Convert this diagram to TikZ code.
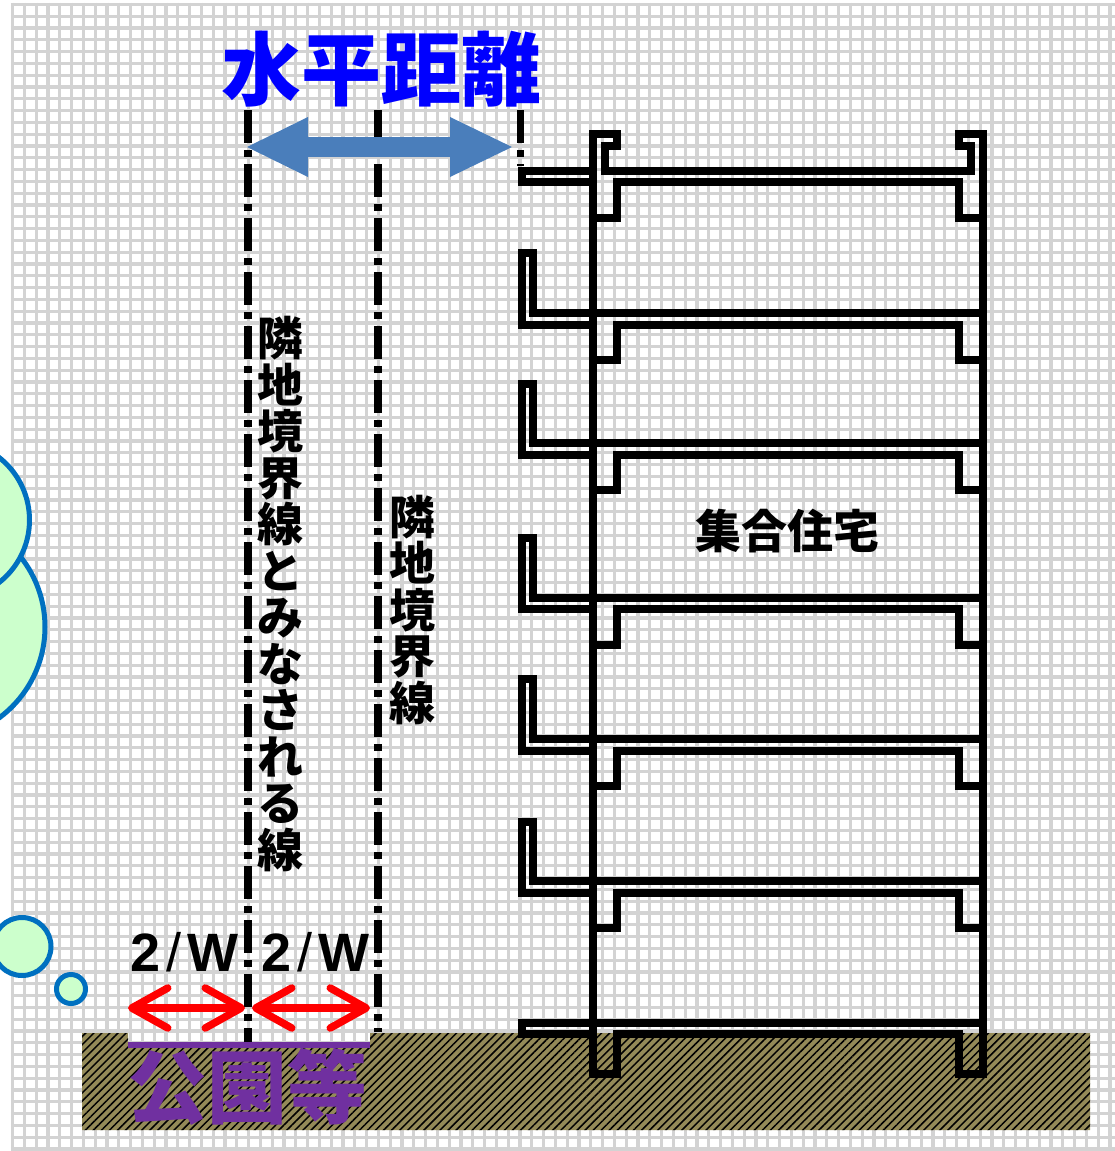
\documentclass[tikz,border=0pt]{standalone}
\usepackage{fontspec}
\newfontfamily\cjk{Noto Sans CJK JP}
\newfontfamily\lat{Liberation Sans}
\usetikzlibrary{arrows.meta,patterns.meta}
\definecolor{gridgray}{RGB}{211,211,211}
\definecolor{titleblue}{RGB}{0,0,255}
\definecolor{arrowblue}{RGB}{74,126,187}
\definecolor{parkpurple}{RGB}{112,48,160}
\definecolor{soil}{RGB}{148,138,88}
\definecolor{leaf}{RGB}{204,255,204}
\definecolor{leafline}{RGB}{0,112,192}
\begin{document}
\begin{tikzpicture}[x=1pt,y=-1pt,
  gridline/.style={gridgray,line width=3.2pt},
  wall/.style={line width=8pt,line cap=rect,line join=miter},
  boundary/.style={line width=7.5pt,dash pattern=on 33pt off 7pt on 7pt off 7pt},
  tree/.style={circle,draw=leafline,fill=leaf,line width=5pt,inner sep=0pt},
  titletext/.style={font=\cjk\bfseries\fontsize{80pt}{80pt}\selectfont,text=titleblue,inner sep=0pt},
  vlabel/.style={font=\cjk\bfseries\fontsize{46pt}{46.5pt}\selectfont,align=center,inner sep=0pt},
  blabel/.style={font=\cjk\bfseries\fontsize{46pt}{46pt}\selectfont,inner sep=0pt},
  wlabel/.style={font=\lat\bfseries\fontsize{54pt}{54pt}\selectfont,inner sep=0pt},
  parktext/.style={font=\cjk\bfseries\fontsize{80pt}{80pt}\selectfont,text=parkpurple,inner sep=0pt},
  gaparrow/.style={red,line width=7.5pt,line cap=round,
    {Straight Barb[length=36pt,width=40pt,round]}-{Straight Barb[length=36pt,width=40pt,round]}},
  distarrow/.style={arrowblue,line width=20pt,
    {Triangle[length=61pt,width=60pt,line width=0pt]}-{Triangle[length=62pt,width=60pt,line width=0pt]}}
]
\useasboundingbox (0,0) rectangle (1115,1151);
\clip (0,0) rectangle (1115,1151);
\fill[white] (0,0) rectangle (1115,1151);

% squared background
\foreach \i in {0,...,93}
  \draw[gridline] ({12.5+11.8*\i},2.7) -- ({12.5+11.8*\i},1151);
\foreach \j in {0,...,97}
  \draw[gridline] (10.9,{4.3+11.8*\j}) -- (1115,{4.3+11.8*\j});

% ground
\fill[soil,postaction={pattern={Lines[angle=45,distance=5.7pt,line width=1.5pt]},pattern color=black}]
  (82,1033) -- (128,1033) -- (128,1045) -- (370,1045) -- (370,1033)
  -- (1090,1033) -- (1090,1130) -- (82,1130) -- cycle;

% trees of the park
\node[tree,minimum size=226pt] (treeB) at (-68,627) {};
\node[tree,minimum size=159pt] (treeA) at (-50,520) {};
\node[tree,minimum size=58pt] (bush1) at (22,946.5) {};
\node[tree,minimum size=29pt] (bush2) at (71,989) {};

% apartment building: roof with parapets, columns and walls
\draw[wall] (592.5,1074) -- (592.5,134) -- (616.5,134) -- (616.5,146) -- (604.5,146)
  -- (604.5,171) -- (971,171) -- (971,146) -- (959,146) -- (959,134) -- (983,134) -- (983,1074);
\draw[wall] (592.5,171) -- (522,171) -- (522,182) -- (592.5,182);
\draw[wall] (592.5,217.5) -- (616.5,217.5) -- (616.5,182) -- (959,182) -- (959,217.5) -- (983,217.5);
% typical floors with balconies
\foreach \t/\b/\e/\p in {312.5/324.5/360/253, 443/454.5/490/384, 597.5/609/645/537.5,
                         739/751/786/679, 881/892.5/928/822}{
  \draw[wall] (592.5,\b) -- (522,\b) -- (522,\p) -- (533,\p) -- (533,\t) -- (983,\t);
  \draw[wall] (592.5,\e) -- (616.5,\e) -- (616.5,\b) -- (959,\b) -- (959,\e) -- (983,\e);
}
% ground floor slab and footings
\draw[wall] (592.5,1034) -- (522,1034) -- (522,1022.5) -- (983,1022.5);
\draw[wall] (592.5,1074) -- (616.5,1074) -- (616.5,1034) -- (959,1034) -- (959,1074) -- (983,1074);

% boundary lines
\coordinate (b1t) at (248,110);  \coordinate (b1b) at (248,1042);
\coordinate (b2t) at (378,110);  \coordinate (b2b) at (378,1032);
\coordinate (b3t) at (520.5,110); \coordinate (b3b) at (520.5,166);
\draw[boundary] (b1t) -- (b1b);
\draw[boundary] (b2t) -- (b2b);
\draw[boundary] (b3t) -- (b3b);

% horizontal distance
\coordinate (da) at (247,147);
\coordinate (db) at (512,147);
\draw[distarrow] (da) -- (db);
\node[titletext] (ttl) at (381,69) {水平距離};

% labels
\node[vlabel] (v1) at (280,594) {隣\\地\\境\\界\\線\\と\\み\\な\\さ\\れ\\る\\線};
\node[vlabel] (v2) at (412,610) {隣\\地\\境\\界\\線};
\node[blabel] (bld) at (787,531) {集合住宅};

% half-width dimensions
\node[wlabel] (w1) at (184.5,952.5) {2\kern6pt{\mdseries/}\kern6pt W};
\node[wlabel] (w2) at (315,952.5) {2\kern6pt{\mdseries/}\kern6pt W};
\coordinate (g1) at (128,1008); \coordinate (g2) at (245,1008);
\coordinate (g3) at (252,1008); \coordinate (g4) at (370,1008);
\draw[gaparrow] (g1) -- (g2);
\draw[gaparrow] (g3) -- (g4);

% park
\coordinate (pa) at (128,1045); \coordinate (pb) at (370,1045);
\draw[parkpurple,line width=6.5pt] (pa) -- (pb);
\node[parktext] (park) at (247,1087) {公園等};
\end{tikzpicture}
\end{document}
